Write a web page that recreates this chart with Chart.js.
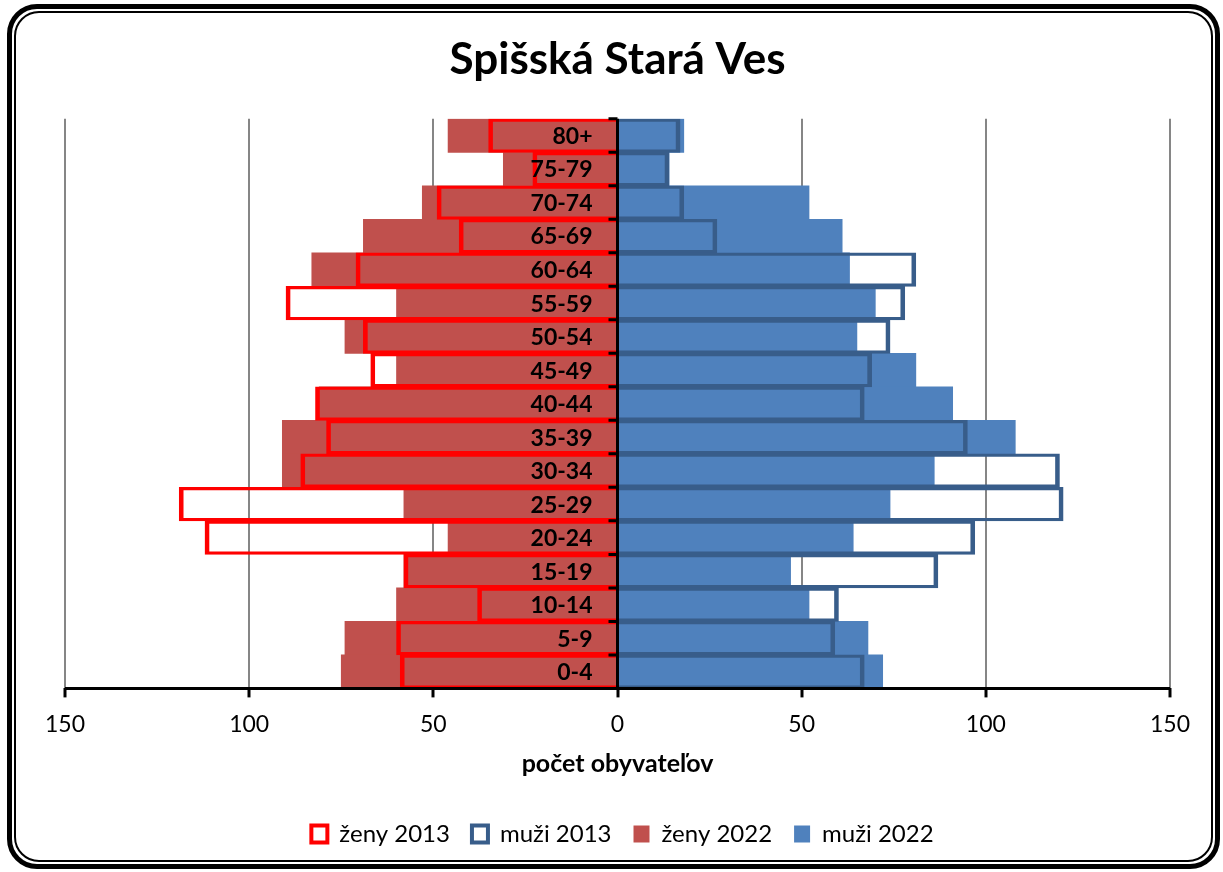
<!DOCTYPE html>
<html><head><meta charset="utf-8">
<script src="https://cdn.jsdelivr.net/npm/chart.js@4.4.1/dist/chart.umd.min.js"></script>
<style>
html,body{margin:0;padding:0;background:#fff;}
#wrap{position:relative;width:1223px;height:872px;overflow:hidden;background:#fff;}
#frame{position:absolute;left:7px;top:4px;width:1213px;height:865px;box-sizing:border-box;border:5px solid #000;border-radius:30px;}
#frame2{position:absolute;left:2px;top:2px;right:2px;bottom:2px;border:2px solid #000;border-radius:25px;}
canvas{position:absolute;left:0;top:0;}
</style></head><body>
<div id="wrap"><div id="frame"><div id="frame2"></div></div><canvas id="c" width="1223" height="872"></canvas></div>
<script>
// categories, top to bottom
const ageGroups = ['80+','75-79','70-74','65-69','60-64','55-59','50-54','45-49','40-44','35-39','30-34','25-29','20-24','15-19','10-14','5-9','0-4'];
const zeny2013 = [35, 23, 49, 43, 71, 90, 69, 67, 82, 79, 86, 119, 112, 58, 38, 60, 59];
const muzi2013 = [17, 14, 18, 27, 81, 78, 74, 69, 67, 95, 120, 121, 97, 87, 60, 59, 67];
const zeny2022 = [46, 31, 53, 69, 83, 60, 74, 60, 81, 91, 91, 58, 46, 58, 60, 74, 75];
const muzi2022 = [18, 14, 52, 61, 63, 70, 65, 81, 91, 108, 86, 74, 64, 47, 52, 68, 72];
const xTicks = [-150, -100, -50, 0, 50, 100, 150];

const FONT = 'Lato';
const outlineW = {top: 2.5, bottom: 2.5, left: 4, right: 4};

const pyramidAxis = {
  id: 'pyramidAxis',
  afterLayout(chart) {
    if (chart.legend) { chart.legend.left += 5; chart.legend.right += 5; }
  },
  afterDatasetsDraw(chart) {
    const {ctx, chartArea: ca, scales: {x, y}} = chart;
    const x0 = x.getPixelForValue(0);
    const step = y.getPixelForValue(1) - y.getPixelForValue(0);
    ctx.save();
    ctx.strokeStyle = '#000';
    ctx.lineWidth = 3;
    ctx.beginPath();
    ctx.moveTo(ca.left, ca.bottom); ctx.lineTo(ca.right, ca.bottom);
    ctx.moveTo(x0, ca.top); ctx.lineTo(x0, ca.bottom);
    for (let i = 0; i <= ageGroups.length; i++) {
      const yy = y.getPixelForValue(0) - step / 2 + i * step;
      ctx.moveTo(x0, yy); ctx.lineTo(x0 - 9, yy);
    }
    ctx.stroke();
    ctx.fillStyle = '#000';
    ctx.font = 'bold 23px ' + FONT;
    ctx.textAlign = 'right';
    ctx.textBaseline = 'middle';
    ageGroups.forEach((lab, i) => {
      ctx.fillText(lab, x0 - 25, y.getPixelForValue(i) + 1);
    });
    ctx.restore();
  }
};

const legendStyles = [
  {fill: '#ffffff', stroke: '#FF0000', lw: 4},
  {fill: '#ffffff', stroke: '#385D8A', lw: 4},
  {fill: '#C0504D', stroke: '#C0504D', lw: 0},
  {fill: '#4F81BD', stroke: '#4F81BD', lw: 0}
];

Chart.defaults.color = '#000';
Chart.defaults.font.family = FONT;

new Chart(document.getElementById('c'), {
  type: 'bar',
  data: {
    labels: ageGroups,
    datasets: [
      {label: 'ženy 2013', data: zeny2013.map(v => -v), backgroundColor: 'rgba(0,0,0,0)', borderColor: '#FF0000', borderWidth: outlineW, borderSkipped: 'start', grouped: false},
      {label: 'muži 2013', data: muzi2013, backgroundColor: 'rgba(0,0,0,0)', borderColor: '#385D8A', borderWidth: outlineW, borderSkipped: 'start', grouped: false},
      {label: 'ženy 2022', data: zeny2022.map(v => -v), backgroundColor: '#C0504D', borderWidth: 0, grouped: false},
      {label: 'muži 2022', data: muzi2022, backgroundColor: '#4F81BD', borderWidth: 0, grouped: false}
    ]
  },
  options: {
    indexAxis: 'y',
    responsive: false,
    animation: false,
    devicePixelRatio: 1,
    events: [],
    datasets: {bar: {categoryPercentage: 1, barPercentage: 1}},
    layout: {padding: {left: 65, right: 53, top: 0, bottom: 16}},
    scales: {
      x: {
        type: 'linear', min: -150, max: 150,
        afterBuildTicks: s => { s.ticks = xTicks.map(v => ({value: v})); },
        ticks: {callback: v => Math.abs(v), font: {size: 23}, color: '#000', padding: 13, maxRotation: 0},
        grid: {
          color: c => (c.tick && c.tick.value === 0) ? 'rgba(0,0,0,0)' : '#868686',
          lineWidth: 2, tickColor: '#000', tickWidth: 3, tickLength: 9
        },
        border: {display: false},
        title: {display: true, text: 'počet obyvateľov', font: {size: 25, weight: 'bold', lineHeight: 1.0}, color: '#000', padding: {top: 0, bottom: 24}}
      },
      y: {type: 'category', display: false, offset: true}
    },
    plugins: {
      title: {display: true, text: 'Spišská Stará Ves', font: {size: 44, weight: 'bold'}, color: '#000', padding: {top: 33, bottom: 33}},
      legend: {
        position: 'bottom',
        labels: {
          font: {size: 24}, color: '#000', boxWidth: 16, boxHeight: 17, padding: 22,
          generateLabels: chart => chart.data.datasets.map((ds, i) => ({
            text: ds.label, fillStyle: legendStyles[i].fill, strokeStyle: legendStyles[i].stroke,
            lineWidth: legendStyles[i].lw, hidden: false, datasetIndex: i, fontColor: '#000'
          }))
        }
      },
      tooltip: {enabled: false}
    }
  },
  plugins: [pyramidAxis]
});
</script>
</body></html>
